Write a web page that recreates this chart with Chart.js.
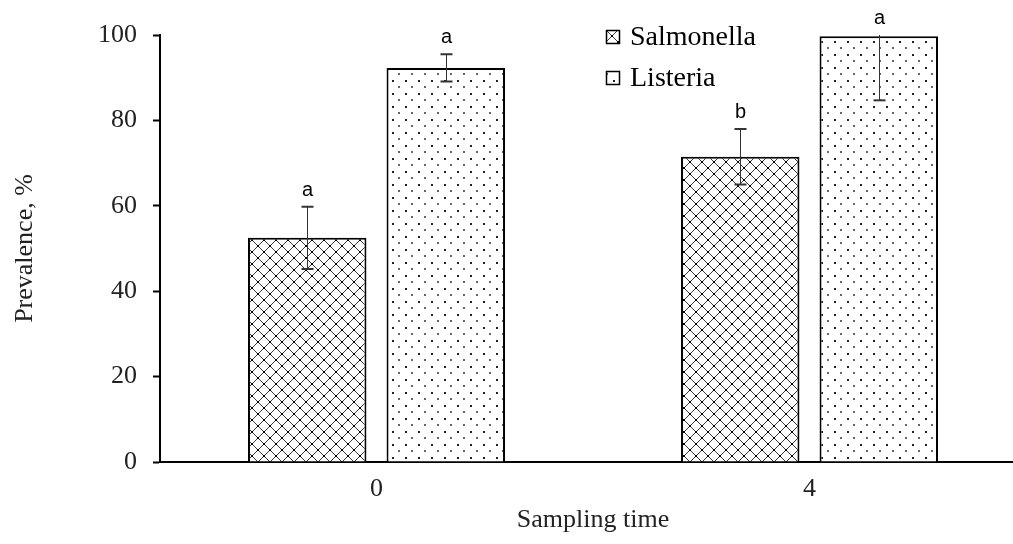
<!DOCTYPE html>
<html>
<head>
<meta charset="utf-8">
<script src="https://cdn.jsdelivr.net/npm/chart.js@4.4.0/dist/chart.umd.min.js"></script>
<style>
    html, body { margin: 0; padding: 0; background: #fff; overflow: hidden; }
    #wrap { width: 1026px; height: 544px; position: relative; }
</style>
</head>
<body>
<div id="wrap"><canvas id="chart"></canvas></div>
<script>
    const categories = ['0', '4'];
    const seriesNames = ['Salmonella', 'Listeria'];
    const salmonella = [52.5, 71.5];
    const listeria = [92.3, 99.7];
    const salmonellaErr = [7.3, 6.5];
    const listeriaErr = [3.2, 15];
    const salmonellaLetters = ['a', 'b'];
    const listeriaLetters = ['a', 'a'];
    const yTicks = [0, 20, 40, 60, 80, 100];

    const serif = "'Liberation Serif', 'Times New Roman', serif";
    const sans = "'Liberation Sans', Arial, sans-serif";

    function makeTile(size, draw) {
        const c = document.createElement('canvas');
        c.width = size;
        c.height = size;
        const g = c.getContext('2d');
        g.fillStyle = '#fff';
        g.fillRect(0, 0, size, size);
        draw(g, size);
        return c;
    }

    // diamond crosshatch for Salmonella
    const hatchTile = makeTile(12, function (g, s) {
        g.strokeStyle = '#3a3a3a';
        g.lineWidth = 1;
        g.beginPath();
        g.moveTo(0, 0); g.lineTo(s, s);
        g.moveTo(s, 0); g.lineTo(0, s);
        g.stroke();
        g.fillStyle = '#000';
        g.fillRect(s / 2 - 1, s / 2 - 1, 2, 2);
        g.fillRect(0, 0, 1, 1);
        g.fillRect(s - 1, 0, 1, 1);
        g.fillRect(0, s - 1, 1, 1);
        g.fillRect(s - 1, s - 1, 1, 1);
    });

    // sparse dots for Listeria
    const dotTile = makeTile(13, function (g, s) {
        g.fillStyle = '#222';
        g.fillRect(2, 2, 2, 2);
        g.fillStyle = '#666';
        g.fillRect(8, 8, 2, 2);
    });

    const ctx = document.getElementById('chart').getContext('2d');
    const hatch = ctx.createPattern(hatchTile, 'repeat');
    const dots = ctx.createPattern(dotTile, 'repeat');

    const errorBars = {
        id: 'errorBars',
        afterDatasetsDraw(chart) {
            const c = chart.ctx;
            const y = chart.scales.y;
            const errs = [salmonellaErr, listeriaErr];
            const letters = [salmonellaLetters, listeriaLetters];
            c.save();
            chart.data.datasets.forEach(function (ds, di) {
                const meta = chart.getDatasetMeta(di);
                meta.data.forEach(function (bar, i) {
                    const v = ds.data[i];
                    const hi = Math.min(v + errs[di][i], y.max);
                    const lo = v - errs[di][i];
                    const x = Math.round(bar.x) + 0.5;
                    const yHi = y.getPixelForValue(hi);
                    const yLo = y.getPixelForValue(lo);
                    c.strokeStyle = '#333';
                    c.lineWidth = 1;
                    c.beginPath();
                    c.moveTo(x, yHi);
                    c.lineTo(x, yLo);
                    c.stroke();
                    c.lineWidth = 2;
                    c.beginPath();
                    c.moveTo(x - 6, yLo);
                    c.lineTo(x + 6, yLo);
                    if (v + errs[di][i] <= y.max) {
                        c.moveTo(x - 6, yHi);
                        c.lineTo(x + 6, yHi);
                    }
                    c.stroke();
                    c.fillStyle = '#000';
                    c.font = '20px ' + sans;
                    c.textAlign = 'center';
                    c.textBaseline = 'alphabetic';
                    c.fillText(letters[di][i], x, yHi - 11);
                });
            });
            c.restore();
        }
    };

    const sideLegend = {
        id: 'sideLegend',
        afterDraw(chart) {
            const c = chart.ctx;
            const fills = [hatch, dots];
            c.save();
            seriesNames.forEach(function (name, i) {
                const cy = 37 + i * 41;
                c.fillStyle = fills[i];
                c.fillRect(606, cy - 7, 14, 14);
                c.strokeStyle = '#000';
                c.lineWidth = 1.5;
                c.strokeRect(606.5, cy - 6.5, 13, 13);
                c.fillStyle = '#000';
                c.font = '28px ' + serif;
                c.textAlign = 'left';
                c.textBaseline = 'middle';
                c.fillText(name, 630, cy + 1);
            });
            c.restore();
        }
    };

    new Chart(ctx, {
        type: 'bar',
        data: {
            labels: categories,
            datasets: [{
                label: seriesNames[0],
                data: salmonella,
                backgroundColor: hatch,
                borderColor: '#000',
                borderWidth: 2
            }, {
                label: seriesNames[1],
                data: listeria,
                backgroundColor: dots,
                borderColor: '#000',
                borderWidth: 2
            }]
        },
        options: {
            responsive: true,
            maintainAspectRatio: false,
            animation: false,
            categoryPercentage: 0.64,
            barPercentage: 0.855,
            layout: { padding: { top: 35, right: 0, left: 0, bottom: 0 } },
            plugins: {
                legend: { display: false },
                tooltip: { enabled: false }
            },
            scales: {
                x: {
                    grid: { drawOnChartArea: false, drawTicks: false },
                    border: { color: '#000', width: 2 },
                    ticks: { color: '#222', padding: 12, font: { family: serif, size: 26 } },
                    title: {
                        display: true,
                        text: 'Sampling time',
                        color: '#222',
                        font: { family: serif, size: 26 },
                        padding: { top: 4, bottom: 8 }
                    },
                    afterFit(scale) { scale.height = 82; }
                },
                y: {
                    min: 0,
                    max: 100,
                    afterBuildTicks(scale) {
                        scale.ticks = yTicks.map(v => ({ value: v }));
                    },
                    grid: { drawOnChartArea: false, tickLength: 7, tickColor: '#000', tickWidth: 2 },
                    border: { color: '#000', width: 2 },
                    ticks: { color: '#222', padding: 16, font: { family: serif, size: 26 } },
                    title: {
                        display: true,
                        text: 'Prevalence, %',
                        color: '#222',
                        font: { family: serif, size: 26 },
                        padding: { top: 10, bottom: 0 }
                    },
                    afterFit(scale) { scale.width = 160; }
                }
            }
        },
        plugins: [errorBars, sideLegend]
    });
</script>
</body>
</html>
